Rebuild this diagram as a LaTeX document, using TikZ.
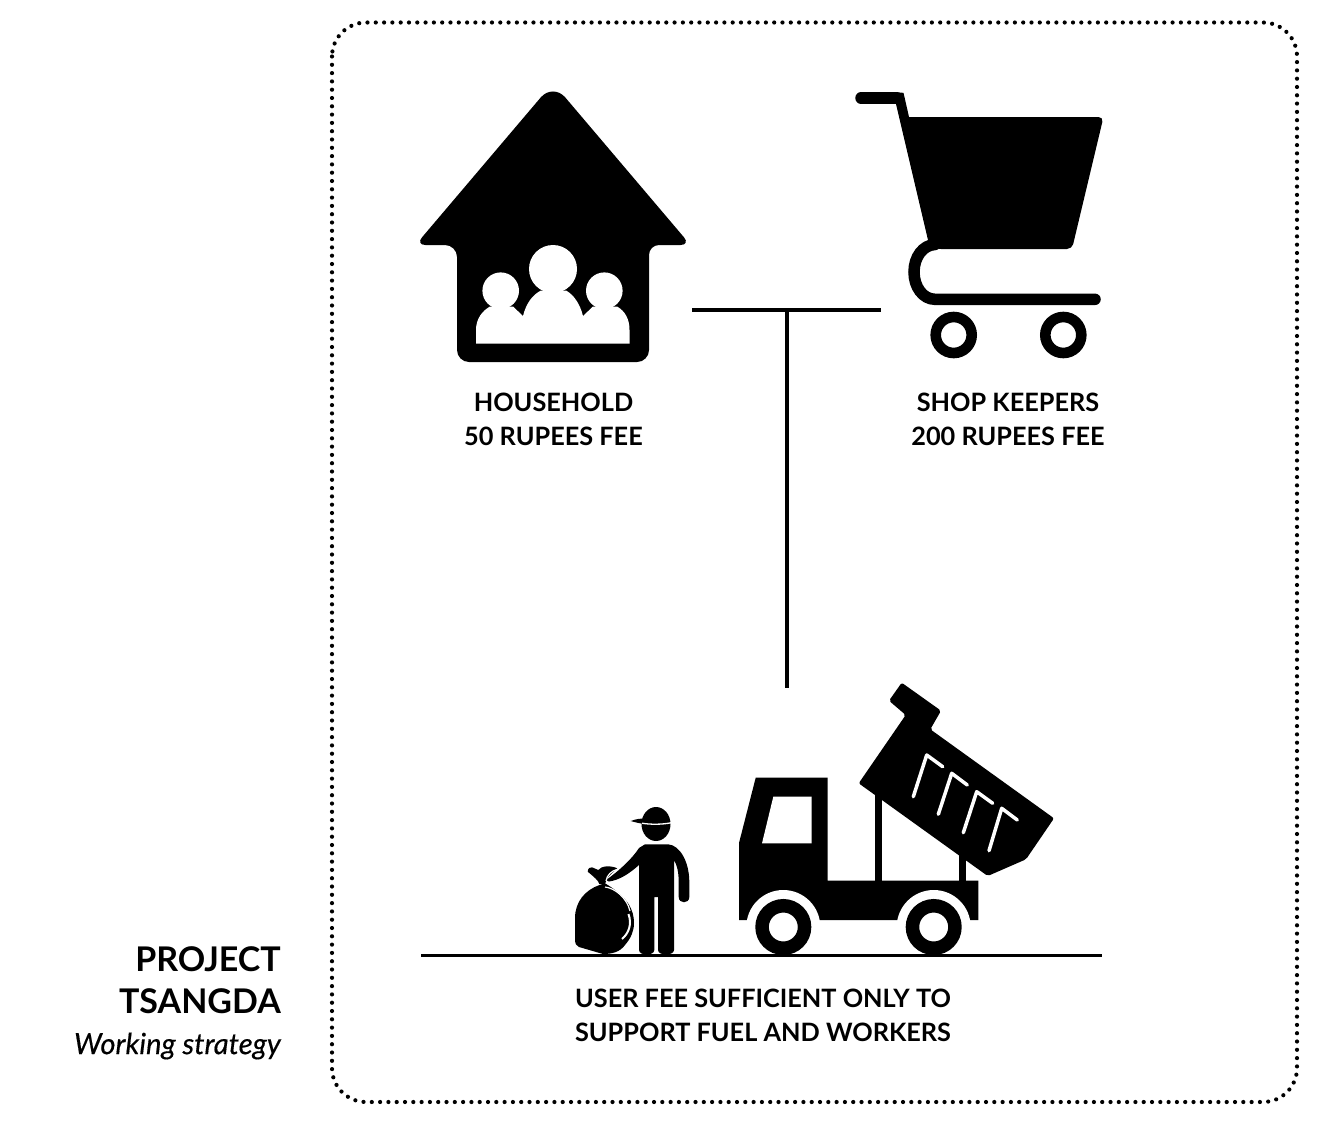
\documentclass[tikz,border=0pt]{standalone}
\usepackage{fontspec}
\setmainfont{Lato}
\usepackage{tikz}
\usetikzlibrary{positioning}

\tikzset{
  label/.style={font=\fontsize{25.3}{34}\selectfont\bfseries, align=center, inner sep=0pt},
  title/.style={font=\fontsize{34}{42}\selectfont\bfseries, align=right, inner sep=0pt, anchor=east},
  wire/.style={draw=black, line width=4pt},
  wheel/.style={draw=black, fill=white, circle, inner sep=0pt},
  gleam/.style={white, line width=3.5pt, line cap=round, line join=round}
}

\begin{document}
\begin{tikzpicture}[x=1pt,y=-1pt]
        \useasboundingbox (0,0) rectangle (1327,1140);

        % frame
        \draw[line width=4.2pt, line cap=round, dash pattern=on 0pt off 8.3pt, rounded corners=34pt]
            (332,22.5) rectangle (1297,1102);

        % house
        \fill (553,362) [rounded corners=12pt] -- (457,362) -- (457,245) [rounded corners=10pt] -- (415.5,245) [rounded corners=19pt] -- (553,83) [rounded corners=10pt] -- (690.5,245) -- (649,245) [rounded corners=12pt] -- (649,362) -- cycle;
        \fill[white] (553,269) circle (24pt);
        \fill[white] (500.7,290.7) circle (18.3pt);
        \fill[white] (604.3,290.7) circle (18.3pt);
        \fill[white] (476,343.5) -- (476,330) .. controls (476,319) and (482,311) .. (490,306.5)
            -- (513,306.5) -- (523,316) .. controls (526,304) and (532,295) .. (541,290.5)
            -- (566,290.5) .. controls (574,295) and (580,304) .. (583,316) -- (593,306.5)
            -- (617,306.5) .. controls (625,311) and (629.5,319) .. (629.5,330) -- (629.5,343.5) -- cycle;

        % cart
        \draw[line width=11.5pt, line cap=round, line join=round] (861,98) -- (897,98);
        \fill (896,104) -- (897,92.5) -- (903.5,92.8) -- (909,117) [rounded corners=5pt] -- (1103.5,117) -- (1072,249) -- (936,249) [sharp corners] -- (928,240) -- cycle;
        \draw[line width=11.5pt, line cap=round] (935,244.5) .. controls (923,245) and (914,257) .. (914,272)
            .. controls (914,287) and (923,299.3) .. (935,299.3) -- (1095,299.3);
        \node[wheel, line width=10.6pt, minimum size=36pt] (cartL) at (953.7,335) {};
        \node[wheel, line width=10.6pt, minimum size=36pt] (cartR) at (1063.3,335) {};

        % labels
        \node[label] (household) at (553.5,419) {HOUSEHOLD\\50 RUPEES FEE};
        \node[label] (shop) at (1008,419) {SHOP KEEPERS\\200 RUPEES FEE};
        \node[label] (fee) at (763,1015) {USER FEE SUFFICIENT ONLY TO\\SUPPORT FUEL AND WORKERS};
        \node[title] (project) at (281,980) {PROJECT\\TSANGDA};
        \node[anchor=east, inner sep=0pt, font=\fontsize{29.2}{32}\selectfont\itshape\addfontfeature{FakeBold=0.4}] (strategy) at (281,1046) {Working strategy};

        % connector
        \coordinate (barL) at (692,310);
        \coordinate (barR) at (881,310);
        \coordinate (stemT) at (787,310);
        \coordinate (stemB) at (787,688);
        \draw[wire] (barL) -- (barR);
        \draw[wire] (stemT) -- (stemB);

        % truck
        \fill (875,785) rectangle (882,885);
        \fill (959.3,850) rectangle (966,885);
        \fill[rounded corners=2pt] (901.7,682.7) -- (941,710.7) -- (930.3,729.3) -- (1054,818.3) -- (1026,859.3) -- (987.7,876) -- (858.7,783.3) -- (905.7,715) -- (889,700.7) -- cycle;
        \fill (755.7,777.7) -- (827.7,777.7) -- (827.7,880.7) -- (978.3,880.7) -- (978.3,920) -- (739,920) -- (739,843) -- cycle;
        \fill[white] (773.3,796.7) -- (811.7,796.7) -- (811.7,843.3) -- (762,843.3) -- cycle;
        \draw[gleam] (913.3,796.7) -- (926.7,755) -- (942.7,766.7);
        \draw[gleam] (938.3,814.3) -- (951.7,773.3) -- (967.3,785);
        \draw[gleam] (963.3,832.7) -- (976.7,791.7) -- (992.7,803.3);
        \draw[gleam] (989,850.7) -- (1001.7,808.3) -- (1017.3,820);
        \fill[white] (783.3,927) circle (37pt);
        \fill[white] (933.7,927) circle (37pt);
        \node[wheel, line width=13.5pt, minimum size=42.5pt] (wheelF) at (783.3,927) {};
        \node[wheel, line width=13.5pt, minimum size=42.5pt] (wheelB) at (933.7,927) {};

        % worker
        \fill (656,824) ellipse (14.5pt and 17pt);
        \fill (630.7,821) .. controls (636,819) and (640,818.5) .. (645,818.5) -- (645,824) .. controls (640,823.5) and (636,822.5) .. (630.7,821) -- cycle;
        \draw[white, line width=1.3pt] (642,823.2) .. controls (650,824.6) and (662,824.6) .. (671,822.8);
        \fill (645,844.3) -- (668,844.3) .. controls (680,845) and (689.3,862) .. (689.3,882) -- (689.3,897)
            .. controls (689.3,904) and (678.7,904) .. (678.7,897) -- (678.7,882) .. controls (678.7,872) and (677,865) .. (674,860)
            -- (674,950) .. controls (674,956) and (658,956) .. (658,950) -- (658,897) -- (654.3,897) -- (654.3,950)
            .. controls (654.3,956) and (639,956) .. (639,950) -- (639,865) .. controls (630,873) and (620,880) .. (609,881.5)
            -- (606,880) .. controls (612,876) and (630,862) .. (639,848) -- cycle;

        % bag
        \fill (599.5,885) .. controls (585,890) and (575,902) .. (575,918) -- (575,938) .. controls (575,944) and (576,946) .. (579,947)
            -- (603,954) .. controls (612,954) and (620,952) .. (625,945) .. controls (631,938) and (634,931) .. (634,923)
            .. controls (634,910) and (628,897) .. (605,883.3) -- cycle;
        \fill (587.7,871.7) .. controls (588,868) and (590,867) .. (592,867.3) -- (598.3,870) .. controls (601,866) and (610,865) .. (617.3,868.3)
            -- (610,875) .. controls (607,878) and (606,881) .. (605,884) -- (599.3,884) .. controls (599,881) and (593,876) .. (587.7,871.7) -- cycle;
        \draw[white, line width=1.2pt] (605,887) .. controls (615,888) and (627,898) .. (630,911);
        \draw[white, line width=2pt] (628.5,914) .. controls (632,924) and (629,933) .. (622,939);
        \draw[white, line width=1.2pt] (606,881) .. controls (607,875) and (611,871) .. (618,869);

        % ground
        \coordinate (groundL) at (421,955);
        \coordinate (groundR) at (1102,955);
        \draw[black, line width=3pt] (groundL) -- (groundR);
\end{tikzpicture}
\end{document}
